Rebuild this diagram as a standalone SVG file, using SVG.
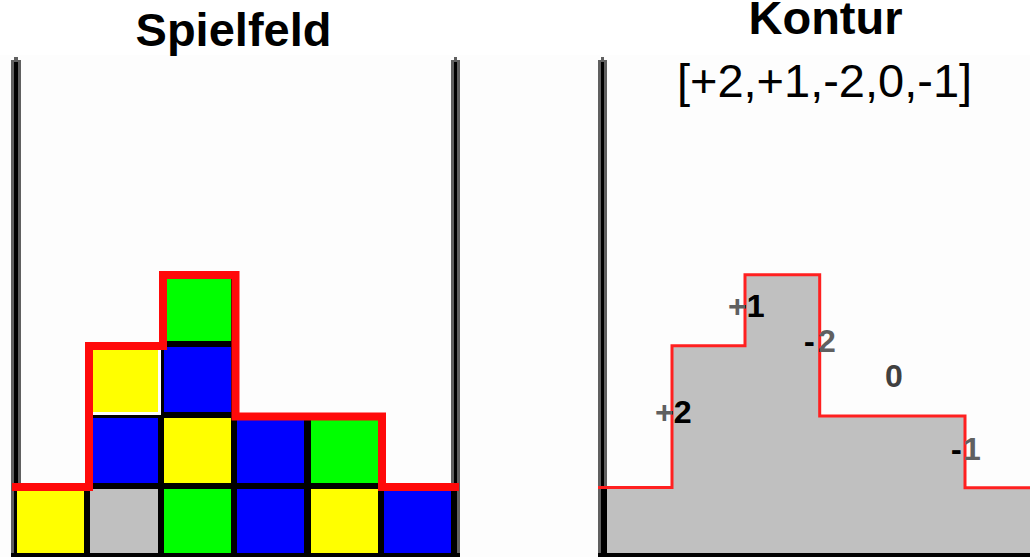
<svg xmlns="http://www.w3.org/2000/svg" width="1030" height="557" viewBox="0 0 1030 557">
<style>
.title{font-family:"Liberation Sans",Arial,sans-serif;font-weight:bold;font-size:47px;fill:#000}
.sub{font-family:"Liberation Sans",Arial,sans-serif;font-size:47px;fill:#000}
.lbl{font-family:"Liberation Sans",Arial,sans-serif;font-weight:bold;font-size:32px}
.wallo{fill:#606060}
.walli{fill:#000}
.y{fill:#ffff00}.b{fill:#0000ff}.g{fill:#00ff00}.s{fill:#c0c0c0}
</style>
<defs>
<clipPath id="fillclip"><path d="M598 487.5 H672 V345.7 H745 V274.7 H819.7 V416 H965 V487.7 H1030 V557 H598 Z"/></clipPath>
</defs>
<rect x="0" y="0" width="1030" height="557" fill="#ffffff"/>
<rect x="0" y="55" width="1030" height="502" fill="#fdfdfd"/>

<g id="title-spielfeld"><text class="title" x="233.5" y="46" text-anchor="middle">Spielfeld</text></g>
<g id="title-kontur">
<text class="title" x="825.5" y="34" text-anchor="middle">Kontur</text>
<text class="sub" x="824.5" y="97" text-anchor="middle">[+2,+1,-2,0,-1]</text>
</g>

<g id="spielfeld">
<rect class="wallo" x="11" y="60" width="10" height="497"/>
<rect class="wallo" x="14" y="57" width="4" height="3"/>
<rect class="walli" x="14" y="62" width="4" height="495"/>
<rect class="wallo" x="451" y="60" width="9" height="497"/>
<rect class="wallo" x="454" y="57" width="3" height="3"/>
<rect class="walli" x="454" y="62" width="3" height="495"/>
<g fill="#000">
<rect x="14" y="486" width="73" height="71"/>
<rect x="87" y="415" width="74" height="142"/>
<rect x="161" y="276" width="73" height="281"/>
<rect x="234" y="415" width="74" height="142"/>
<rect x="308" y="415" width="73" height="142"/>
<rect x="381" y="486" width="73" height="71"/>
</g>
<rect class="y" x="17" y="489" width="67" height="64"/>
<rect class="s" x="90" y="489" width="68" height="64"/>
<rect class="g" x="164" y="489" width="67" height="64"/>
<rect class="b" x="237" y="489" width="67" height="64"/>
<rect class="y" x="311" y="489" width="67" height="64"/>
<rect class="b" x="384" y="489" width="67" height="64"/>
<rect class="b" x="90" y="418" width="68" height="65"/>
<rect class="y" x="164" y="418" width="67" height="65"/>
<rect class="b" x="237" y="418" width="67" height="65"/>
<rect class="g" x="311" y="418" width="67" height="65"/>
<rect class="y" x="90" y="347" width="68" height="65"/>
<rect class="b" x="164" y="347" width="67" height="65"/>
<rect class="g" x="164" y="279" width="67" height="62"/>
<path d="M12 487 H89 V346 H163 V275 H235.5 V416.5 H382 V487 H459" fill="none" stroke="#ff0a0a" stroke-width="8"/>
</g>

<g id="kontur">
<path d="M598 487.5 H672 V345.7 H745 V274.7 H819.7 V416 H965 V487.7 H1030 V557 H598 Z" fill="#c0c0c0"/>
<rect class="wallo" x="598" y="60" width="9" height="497"/>
<rect class="wallo" x="601" y="57" width="3" height="3"/>
<rect class="walli" x="601" y="62" width="3" height="495"/>
<rect class="walli" x="601" y="488" width="6" height="69"/>
<path d="M598 487.5 H672 V345.7 H745 V274.7 H819.7 V416 H965 V487.7 H1030" fill="none" stroke="#ff2020" stroke-width="3"/>
</g>

<g id="baseline">
<rect x="11" y="553" width="449" height="4" fill="#000"/>
<rect x="598" y="553" width="432" height="4" fill="#000"/>
</g>

<g id="labels">
<g id="labels-gray" class="lbl" fill="#606060">
<text x="655" y="423">+2</text>
<text x="728" y="317">+1</text>
<text y="352"><tspan x="804">-</tspan><tspan x="818">2</tspan></text>
<text x="885" y="387" fill="#404040">0</text>
<text y="460"><tspan x="951">-</tspan><tspan x="963">1</tspan></text>
</g>
<g id="labels-dark" class="lbl" fill="#000" clip-path="url(#fillclip)">
<text x="655" y="423">+2</text>
<text x="728" y="317">+1</text>
<text y="352"><tspan x="804">-</tspan><tspan x="818">2</tspan></text>
<text y="460"><tspan x="951">-</tspan><tspan x="963">1</tspan></text>
</g>
</g>
</svg>
